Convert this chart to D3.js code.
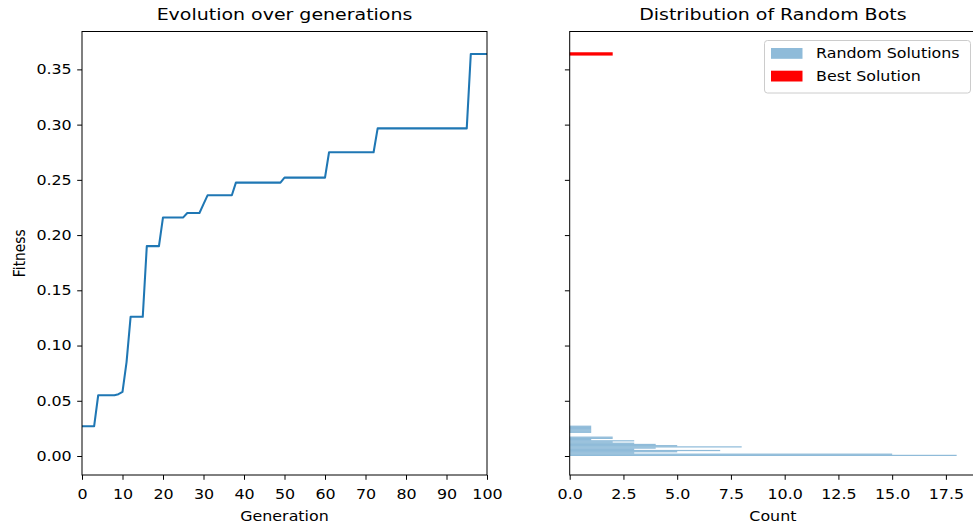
<!DOCTYPE html>
<html>
<head>
<meta charset="utf-8">
<script src="https://cdn.jsdelivr.net/npm/d3@7"></script>
<style>
  html, body { margin: 0; padding: 0; background: #fff; }
  svg { display: block; font-family: "DejaVu Sans", sans-serif; }
</style>
</head>
<body>
<svg id="chart" width="973" height="529"></svg>
<script>
// ---------- data ----------
const generations = d3.range(0, 101);
const fitness = [
  0.027, 0.027, 0.027, 0.027,                    // 0-3
  0.055, 0.055, 0.055, 0.055, 0.055,             // 4-8
  0.056, 0.058, 0.085,                           // 9-11
  0.126, 0.126, 0.126, 0.126,                    // 12-15
  0.190, 0.190, 0.190, 0.190,                    // 16-19
  0.216, 0.216, 0.216, 0.216, 0.216, 0.216,      // 20-25
  0.220, 0.220, 0.220, 0.220,                    // 26-29
  0.228,                                         // 30
  0.236, 0.236, 0.236, 0.236, 0.236, 0.236, 0.236, // 31-37
  0.2475, 0.2475, 0.2475, 0.2475, 0.2475, 0.2475,
  0.2475, 0.2475, 0.2475, 0.2475, 0.2475, 0.2475, // 38-49
  0.252, 0.252, 0.252, 0.252, 0.252, 0.252,
  0.252, 0.252, 0.252, 0.252, 0.252,             // 50-60
  0.275, 0.275, 0.275, 0.275, 0.275, 0.275,
  0.275, 0.275, 0.275, 0.275, 0.275, 0.275,      // 61-72
  0.2966, 0.2966, 0.2966, 0.2966, 0.2966, 0.2966, 0.2966, 0.2966,
  0.2966, 0.2966, 0.2966, 0.2966, 0.2966, 0.2966, 0.2966, 0.2966,
  0.2966, 0.2966, 0.2966, 0.2966, 0.2966, 0.2966, 0.2966, // 73-95
  0.364, 0.364, 0.364, 0.364, 0.364              // 96-100
];

// histogram of random solutions (bins of fitness, counts)
const histBinLow = [0.0000, 0.0011, 0.0022, 0.0033, 0.0044, 0.0055, 0.0066, 0.0077,
                    0.0088, 0.0099, 0.0110, 0.0121, 0.0132, 0.0143, 0.0154, 0.0165,
                    0.0176, 0.0187, 0.0198, 0.0209, 0.0220, 0.0231, 0.0242, 0.0253, 0.0264];
const histBinHigh = [0.0011, 0.0022, 0.0033, 0.0044, 0.0055, 0.0066, 0.0077, 0.0088,
                     0.0099, 0.0110, 0.0121, 0.0132, 0.0143, 0.0154, 0.0165, 0.0176,
                     0.0187, 0.0198, 0.0209, 0.0220, 0.0231, 0.0242, 0.0253, 0.0264, 0.0275];
const histCounts = [18, 15, 3, 5, 7, 3, 4, 8, 5, 4, 3, 2, 3, 1, 2, 2, 0, 0, 0, 1, 1, 1, 1, 1, 1];

const bestFitness = 0.364;
const bestCount = 2;
const bestBarHeight = 0.003;

const leftXTicks = [0, 10, 20, 30, 40, 50, 60, 70, 80, 90, 100];
const yTicks = [0.00, 0.05, 0.10, 0.15, 0.20, 0.25, 0.30, 0.35];
const rightXTicks = [0.0, 2.5, 5.0, 7.5, 10.0, 12.5, 15.0, 17.5];
const legendLabels = ["Random Solutions", "Best Solution"];

// ---------- layout ----------
const svg = d3.select("#chart");
const plotTop = 31.5, plotBottom = 475;
const L = { x0: 82, x1: 487 };
const R = { x0: 569.7, x1: 976 };
const blue = "#1f77b4";
const SX = 1.15;            // horizontal stretch of the reference image
const tickFont = 13.8, titleFont = 16.5;
const tickLen = 4.8;

const y = d3.scaleLinear().domain([-0.0172, 0.3843]).range([plotBottom, plotTop]);
const xL = d3.scaleLinear().domain([0, 100]).range([L.x0, L.x1]);
const xR = d3.scaleLinear().domain([0, 18.9]).range([R.x0, R.x1]);

function stretchedText(x, yPos, txt, size, anchor, rot) {
  return svg.append("text")
    .attr("transform", `translate(${x},${yPos}) scale(${SX},1)` + (rot ? ` rotate(${rot})` : ""))
    .attr("text-anchor", anchor || "middle")
    .style("font-size", size + "px")
    .attr("fill", "#000")
    .text(txt);
}

function frame(p) {
  svg.append("rect")
    .attr("x", p.x0).attr("y", plotTop)
    .attr("width", p.x1 - p.x0).attr("height", plotBottom - plotTop)
    .attr("fill", "none").attr("stroke", "#000").attr("stroke-width", 1);
}

// ---------- left panel ----------
const line = d3.line()
  .x((d, i) => xL(generations[i]))
  .y(d => y(d));

svg.append("path")
  .datum(fitness)
  .attr("d", line)
  .attr("fill", "none")
  .attr("stroke", blue)
  .attr("stroke-width", 2.05)
  .attr("stroke-linejoin", "round");

const axL = svg.append("g").attr("transform", `translate(0,${plotBottom})`)
  .call(d3.axisBottom(xL).tickValues(leftXTicks).tickSize(tickLen).tickFormat(d3.format("d")));
const ayL = svg.append("g").attr("transform", `translate(${L.x0},0)`)
  .call(d3.axisLeft(y).tickValues(yTicks).tickSize(tickLen).tickPadding(5.5).tickFormat(d3.format(".2f")));

// ---------- right panel ----------
svg.append("g").selectAll("rect.hist")
  .data(histCounts)
  .join("rect")
  .attr("class", "hist")
  .attr("x", xR(0))
  .attr("y", (d, i) => y(histBinHigh[i]))
  .attr("width", d => xR(d) - xR(0))
  .attr("height", (d, i) => y(histBinLow[i]) - y(histBinHigh[i]))
  .attr("fill", blue)
  .attr("fill-opacity", 0.5);

svg.append("rect")
  .attr("x", xR(0))
  .attr("y", y(bestFitness + bestBarHeight / 2))
  .attr("width", xR(bestCount) - xR(0))
  .attr("height", y(bestFitness - bestBarHeight / 2) - y(bestFitness + bestBarHeight / 2))
  .attr("fill", "red");

const axR = svg.append("g").attr("transform", `translate(0,${plotBottom})`)
  .call(d3.axisBottom(xR).tickValues(rightXTicks).tickSize(tickLen).tickFormat(d3.format(".1f")));
const ayR = svg.append("g").attr("transform", `translate(${R.x0},0)`)
  .call(d3.axisLeft(y).tickValues(yTicks).tickSize(tickLen).tickFormat(""));

[axL, ayL, axR, ayR].forEach(g => {
  g.select(".domain").remove();
  g.selectAll("line").attr("stroke", "#000").attr("stroke-width", 1);
  g.selectAll("text").attr("fill", "#000").style("font-size", tickFont + "px")
    .style("font-family", "'DejaVu Sans', sans-serif");
});
// bottom axes: place baseline at fixed offset, stretch horizontally
[axL, axR].forEach(g => {
  g.selectAll(".tick text").attr("y", 24.5).attr("dy", 0)
    .attr("transform", `scale(${SX},1)`);
});
// left axis: stretch, keeping the right edge at the same place
ayL.selectAll(".tick text").each(function () {
  const t = d3.select(this);
  t.attr("x", +t.attr("x") / SX).attr("transform", `scale(${SX},1)`);
});

frame(L);
frame(R);

// ---------- titles & labels ----------
stretchedText((L.x0 + L.x1) / 2, 19.5, "Evolution over generations", titleFont);
stretchedText((R.x0 + R.x1) / 2, 19.5, "Distribution of Random Bots", titleFont);
stretchedText((L.x0 + L.x1) / 2, 520.5, "Generation", tickFont);
stretchedText((R.x0 + R.x1) / 2, 520.5, "Count", tickFont);
stretchedText(25, (plotTop + plotBottom) / 2, "Fitness", tickFont, "middle", -90);

// ---------- legend ----------
const lg = svg.append("g");
lg.append("rect")
  .attr("x", 764.5).attr("y", 40.5).attr("width", 206).attr("height", 52.5)
  .attr("rx", 3).attr("fill", "#fff").attr("fill-opacity", 0.8)
  .attr("stroke", "#cccccc").attr("stroke-width", 1);
const legendColors = [{ c: blue, o: 0.5 }, { c: "red", o: 1 }];
legendLabels.forEach((lab, i) => {
  const cy = 53.3 + i * 22.7;
  lg.append("rect").attr("x", 771).attr("y", cy - 5.3).attr("width", 31.5).attr("height", 10.8)
    .attr("fill", legendColors[i].c).attr("fill-opacity", legendColors[i].o);
  lg.append("text").attr("transform", `translate(816,${cy + 5}) scale(${SX},1)`)
    .style("font-size", tickFont + "px").attr("fill", "#000").text(lab);
});
</script>
</body>
</html>
